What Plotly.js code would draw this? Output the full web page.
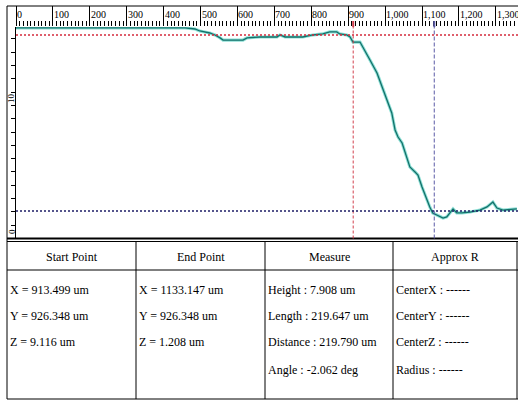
<!DOCTYPE html>
<html><head><meta charset="utf-8">
<script src="https://cdn.plot.ly/plotly-3.0.1.min.js"></script>
<style>html,body{margin:0;padding:0;background:#fff;overflow:hidden} #chart{width:518px;height:400px;}</style>
</head><body><div id="chart"></div>
<script>
// ---- data ----
const profileX = [0,119,228,363,458,485,498,525,539,553,561,588,615,626,661,707,715,729,777,804,
  831,850,869,877,896,905,913,932,940,959,978,986,997,1005,1018,1027,1035,1046,1059,1067,
  1081,1089,1100,1113,1121,1129,1140,1157,1167,1175,1184,1194,1208,1230,1257,1276,1292,1303,1319,1357];
const profileZ = [15.83,15.83,15.83,15.83,15.83,15.75,15.6,15.45,15.3,15.08,14.92,14.92,14.92,15.08,15.15,15.15,15.3,15.15,15.15,15.3,
  15.38,15.53,15.53,15.38,15.3,15.15,14.77,14.77,14.4,13.42,12.44,11.77,11.02,10.41,9.44,8.16,7.63,7.18,6.13,5.38,
  5.0,4.77,3.87,2.89,2.37,1.92,1.77,1.54,1.62,1.92,2.22,1.92,1.92,1.99,2.14,2.37,2.74,2.29,2.14,2.22];
const startX = 913.499;
const endX = 1133.147;
const startLevel = 15.3;
const endLevel = 2.07;
const xTickValues = [0,100,200,300,400,500,600,700,800,900,1000,1100,1200,1300];
const xTickLabels = ["0","100","200","300","400","500","600","700","800","900","1,000","1,100","1,200","1,300"];
const yTickValues = [0,10];
const yTickLabels = ["0","10"];
const tableHeaders = ["Start Point","End Point","Measure","Approx R"];
const startPointRows = ["X = 913.499 um","Y = 926.348 um","Z = 9.116 um"];
const endPointRows = ["X = 1133.147 um","Y = 926.348 um","Z = 1.208 um"];
const measureRows = ["Height : 7.908 um","Length : 219.647 um","Distance : 219.790 um","Angle : -2.062 deg"];
const approxRRows = ["CenterX : ------","CenterY : ------","CenterZ : ------","Radius : ------"];

// ---- layout helpers ----
const W = 518, H = 400;
const fx = p => p / W;
const fy = p => 1 - p / H;
const XR = [0, 1360], YR = [0, 15.9];
const plotTop = 27, plotBottom = 238.5, plotLeft = 16;
const colEdges = [7, 136, 265, 393, 517];
const rowY = [290, 316, 342, 370];
const headerY = 257;
const serif = "'Liberation Serif', 'Times New Roman', serif";
const narrow = "'Liberation Sans Narrow', 'Liberation Serif', serif";

const traces = [
  {x: profileX, y: profileZ, type: 'scatter', mode: 'lines', line: {color: '#8fe0d6', width: 3.2}, hoverinfo: 'skip', showlegend: false},
  {x: profileX, y: profileZ, type: 'scatter', mode: 'lines', line: {color: '#13706a', width: 1.3}, hoverinfo: 'skip', showlegend: false}
];

const blk = {color: '#000', width: 1};
const shapes = [
  {type: 'line', xref: 'paper', yref: 'paper', x0: fx(7), x1: 1, y0: fy(6), y1: fy(6), line: blk},
  {type: 'line', xref: 'paper', yref: 'paper', x0: fx(7), x1: fx(7), y0: fy(6), y1: fy(399), line: blk},
  {type: 'line', xref: 'paper', yref: 'paper', x0: fx(7), x1: 1, y0: fy(plotBottom), y1: fy(plotBottom), line: {color: '#000', width: 2}},
  {type: 'line', xref: 'paper', yref: 'paper', x0: fx(7), x1: 1, y0: fy(241.5), y1: fy(241.5), line: blk},
  {type: 'line', xref: 'paper', yref: 'paper', x0: fx(7), x1: 1, y0: fy(270), y1: fy(270), line: blk},
  {type: 'line', xref: 'paper', yref: 'paper', x0: fx(7), x1: 1, y0: fy(399), y1: fy(399), line: blk},
  // reference markers
  {type: 'line', xref: 'x', yref: 'paper', x0: startX, x1: startX, y0: fy(plotBottom), y1: fy(plotTop), line: {color: '#d2404e', width: 1, dash: '3px,2px'}},
  {type: 'line', xref: 'x', yref: 'paper', x0: endX, x1: endX, y0: fy(plotBottom), y1: fy(plotTop), line: {color: '#5b5ba6', width: 1, dash: '4px,2px'}},
  {type: 'line', xref: 'x', yref: 'y', x0: XR[0], x1: XR[1], y0: startLevel, y1: startLevel, line: {color: '#d42a3c', width: 1.5, dash: '2px,2px'}},
  {type: 'line', xref: 'x', yref: 'y', x0: XR[0], x1: XR[1], y0: endLevel, y1: endLevel, line: {color: '#1c1c66', width: 1.5, dash: '2px,2px'}},
  {type: 'line', xref: 'x', yref: 'paper', x0: startX, x1: startX, y0: fy(plotTop), y1: fy(21), line: {color: '#d2404e', width: 2}},
  {type: 'line', xref: 'x', yref: 'paper', x0: endX, x1: endX, y0: fy(plotTop), y1: fy(21), line: {color: '#5b5ba6', width: 2}}
];
for (let i = 1; i < colEdges.length; i++) {
  shapes.push({type: 'line', xref: 'paper', yref: 'paper', x0: fx(colEdges[i]), x1: fx(colEdges[i]), y0: fy(241.5), y1: fy(399), line: blk});
}

const annotations = [];
xTickValues.forEach((v, i) => annotations.push({
  x: v, xref: 'x', y: fy(8), yref: 'paper', xanchor: 'left', yanchor: 'top', xshift: 0,
  text: xTickLabels[i], showarrow: false, borderpad: 0,
  font: {family: narrow, size: 10, color: '#000'}
}));
yTickValues.forEach((v, i) => annotations.push({
  x: fx(11.5), xref: 'paper', y: v, yref: 'y', xanchor: 'center', yanchor: 'middle', yshift: 7,
  text: yTickLabels[i], textangle: -90, showarrow: false, borderpad: 0,
  font: {family: narrow, size: 9, color: '#000'}
}));
tableHeaders.forEach((t, i) => annotations.push({
  x: fx((colEdges[i] + colEdges[i + 1]) / 2), xref: 'paper', y: fy(headerY), yref: 'paper',
  xanchor: 'center', yanchor: 'middle', text: t, showarrow: false,
  font: {family: serif, size: 12, color: '#000'}
}));
[startPointRows, endPointRows, measureRows, approxRRows].forEach((rows, c) => {
  rows.forEach((t, r) => annotations.push({
    x: fx(colEdges[c] + 1), xref: 'paper', y: fy(rowY[r]), yref: 'paper',
    xanchor: 'left', yanchor: 'middle', text: t, showarrow: false,
    font: {family: serif, size: 12, color: '#000'}
  }));
});

const layout = {
  width: W, height: H,
  margin: {l: 0, r: 0, t: 0, b: 0, pad: 0},
  paper_bgcolor: '#fff', plot_bgcolor: '#fff',
  showlegend: false,
  xaxis: {
    domain: [fx(plotLeft), 1], range: XR, side: 'top', anchor: 'y',
    ticks: 'outside', ticklen: 20, tickwidth: 1, tickcolor: '#000',
    tick0: 0, dtick: 100, showticklabels: false, showgrid: false, zeroline: false, showline: false,
    minor: {ticks: 'outside', dtick: 10, ticklen: 5, tickwidth: 1, tickcolor: '#000', showgrid: false}
  },
  xaxis2: {
    overlaying: 'x', matches: 'x', range: XR, side: 'top', anchor: 'y',
    ticks: 'outside', ticklen: 9, tickwidth: 1, tickcolor: '#000',
    tick0: 50, dtick: 100, showticklabels: false, showgrid: false, zeroline: false, showline: false
  },
  yaxis: {
    domain: [fy(plotBottom), fy(plotTop)], range: YR, anchor: 'x',
    ticks: 'outside', ticklen: 4, tickwidth: 1, tickcolor: '#000',
    tick0: 0, dtick: 1, showticklabels: false, showgrid: false, zeroline: false,
    showline: true, linecolor: '#000', linewidth: 1
  },
  shapes: shapes,
  annotations: annotations
};

Plotly.newPlot('chart', traces, layout, {staticPlot: true, displayModeBar: false});
</script>
</body></html>
